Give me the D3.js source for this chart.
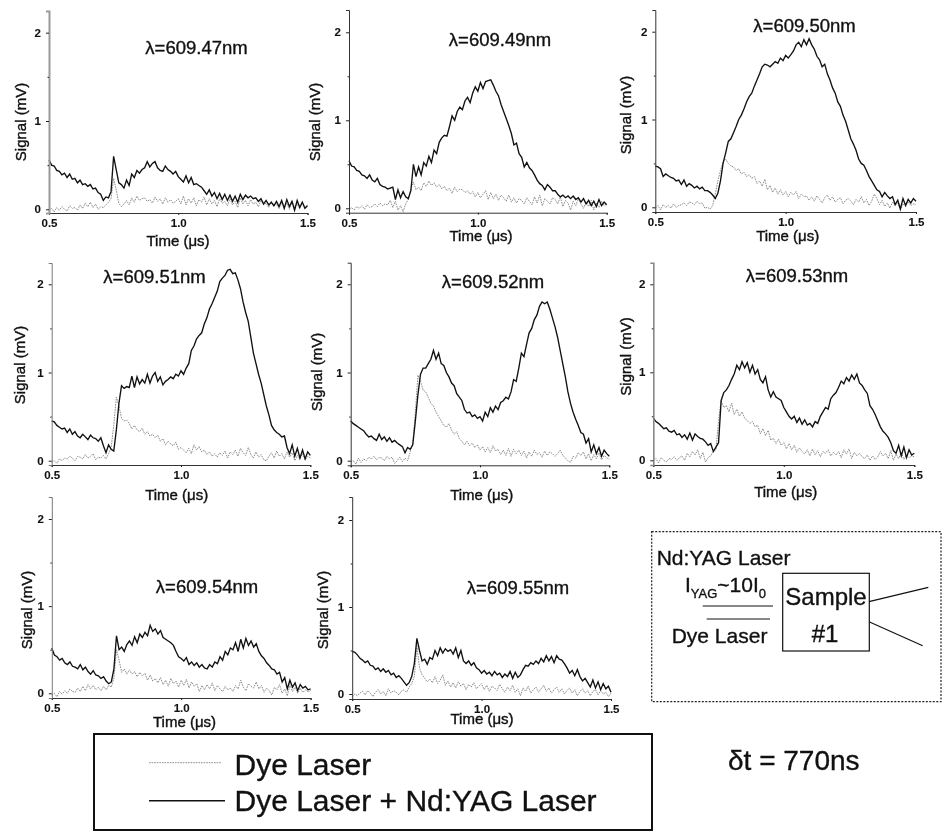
<!DOCTYPE html>
<html>
<head>
<meta charset="utf-8">
<script src="https://d3js.org/d3.v7.min.js"></script>
<style>
  html, body {margin: 0; padding: 0; background: #fff;}
  svg {display: block; filter: blur(0.45px);}
  text {font-family: "Liberation Sans", Arial, sans-serif; fill: #111; stroke: #111; stroke-width: 0.35px;}
  .tick-label text {font-size: 11.5px; font-weight: bold; stroke-width: 0.1px;}
  .axis-title {font-size: 15px; stroke-width: 0.4px;}
  .panel-title {font-size: 18.5px;}
  .axis .domain {stroke: #333;}
  .axis line {stroke: #222;}
  .both {fill: none; stroke: #111; stroke-width: 1.35;}
  .dye {fill: none; stroke: #808080; stroke-width: 0.9; stroke-dasharray: 1.6 1;}
</style>
</head>
<body>
<svg id="chart" width="942" height="832"></svg>

<script>
// values, one reading per 0.01 us from 0.5 to 1.5
var wavelengths = ["609.47", "609.49", "609.50", "609.51", "609.52", "609.53", "609.54", "609.55"];
var xTicks = [0.5, 1.0, 1.5];
var yTicks = [0, 1, 2];
var yMinorTicks = [0.5, 1.5];

var both47 = [.56,.50,.49,.44,.43,.39,.41,.36,.40,.34,
  .35,.30,.33,.28,.29,.26,.28,.23,.24,.19,
  .17,.10,.14,.13,.20,.60,.45,.30,.28,.24,
  .33,.27,.40,.36,.44,.41,.45,.47,.54,.48,
  .52,.54,.47,.44,.43,.49,.45,.43,.40,.43,
  .37,.34,.31,.38,.30,.36,.28,.29,.27,.25,
  .21,.17,.22,.15,.19,.12,.18,.11,.17,.10,
  .16,.09,.15,.08,.17,.11,.16,.13,.15,.12,
  .13,.09,.12,.06,.10,.05,.08,.04,.09,.03,
  .10,.01,.11,.03,.09,-.01,.10,.02,.08,.01,.04];
var dye47 = [-.02,.01,-.03,.02,-.01,.03,0,-.02,.04,.01,
  .02,-.01,.05,.01,.07,.03,.08,.02,.06,0,
  .03,.02,.05,.08,.12,.35,.22,.07,.03,.06,
  .10,.05,.13,.08,.15,.10,.12,.13,.09,.11,
  .07,.14,.09,.12,.06,.13,.08,.11,.07,.09,
  .12,.06,.15,.05,.12,.07,.13,.04,.11,.08,
  .14,.05,.12,.06,.10,.03,.12,.07,.09,.04,
  .12,.05,.09,.02,.13,.06,.10,.04,.11,.06,
  .08,.03,.10,.05,.07,.02,.09,.04,.06,.01,
  .08,.03,.07,0,.09,.02,.06,.01,.08,.03,.05];

var both49 = [.54,.48,.47,.43,.42,.38,.37,.34,.38,.32,
  .30,.34,.27,.25,.24,.22,.23,.24,.10,.21,
  .12,.19,.13,.11,.20,.50,.36,.47,.38,.52,
  .48,.59,.52,.66,.62,.75,.80,.83,.82,.93,
  1.05,1.00,1.10,1.15,1.12,1.22,1.26,1.20,1.31,1.38,
  1.33,1.43,1.36,1.44,1.45,1.46,1.40,1.33,1.28,1.18,
  1.10,1.02,.94,.85,.72,.74,.62,.58,.47,.52,
  .46,.43,.38,.32,.28,.26,.21,.27,.24,.20,
  .20,.16,.13,.15,.12,.14,.11,.14,.10,.12,
  .07,.11,.05,.09,.03,.08,.02,.10,.03,.07,.04];
var dye49 = [-.03,.01,-.02,.02,0,.03,-.01,.04,.01,.02,
  .05,.02,.06,.03,.05,.04,.09,.01,.08,-.02,
  .03,-.04,.05,.10,.22,.30,.21,.24,.20,.29,
  .25,.31,.26,.29,.24,.27,.22,.25,.20,.23,
  .17,.24,.19,.22,.21,.18,.20,.16,.19,.13,
  .18,.12,.16,.20,.10,.18,.11,.16,.09,.15,
  .12,.08,.15,.07,.12,.06,.11,.09,.05,.12,
  .08,.04,.13,.06,.15,.03,.11,.08,.05,.12,
  .10,.05,.13,.02,.09,.06,-.02,.08,.03,.11,
  .05,0,.07,.02,.09,-.02,.06,.01,.08,.03,.05];

var both50 = [.47,.46,.44,.35,.38,.36,.34,.33,.30,.31,
  .26,.31,.24,.27,.25,.22,.24,.21,.23,.19,
  .19,.17,.14,.10,.16,.30,.50,.62,.75,.78,
  .85,.92,1.00,1.05,1.12,1.20,1.26,1.30,1.38,1.45,
  1.52,1.60,1.63,1.62,1.60,1.63,1.66,1.64,1.70,1.67,
  1.73,1.70,1.74,1.78,1.85,1.88,1.83,1.91,1.85,1.92,
  1.85,1.80,1.72,1.68,1.60,1.63,1.52,1.45,1.36,1.30,
  1.20,1.15,1.05,.98,.88,.78,.72,.65,.55,.50,
  .48,.42,.35,.30,.25,.20,.18,.12,.17,.13,
  .10,.12,.03,.08,-.02,.10,.02,.09,.05,.10,.07];
var dye50 = [-.01,.02,-.03,.03,0,.02,-.01,.04,0,.02,
  .03,.05,.02,.06,.05,.03,.07,.04,.05,-.01,
  0,-.02,.02,.15,.30,.42,.52,.55,.50,.47,
  .46,.42,.44,.38,.40,.35,.37,.33,.35,.27,
  .30,.24,.32,.20,.25,.17,.22,.15,.20,.14,
  .18,.12,.17,.14,.18,.10,.15,.12,.13,.08,
  .12,.07,.13,.09,.05,.11,.14,.08,.12,.06,
  .09,.11,.04,.08,.10,.07,.03,.09,.06,.12,
  .05,.09,.02,.07,.15,.10,.03,.08,.01,.05,
  -.01,.06,.02,.05,-.03,.04,.01,.06,.02,.04,.03];

var both51 = [.45,.44,.40,.38,.36,.37,.32,.36,.30,.33,
  .28,.26,.30,.27,.24,.29,.26,.25,.22,.26,
  .17,.09,.18,.13,.11,.35,.65,.85,.82,.84,
  .83,.96,.83,.95,.87,.92,.88,.98,.88,.96,
  1.00,.90,.95,.86,.90,.92,.95,.93,.98,.96,
  1.02,.98,1.05,1.10,1.25,1.30,1.38,1.42,1.45,1.55,
  1.62,1.72,1.78,1.85,1.92,2.03,2.07,2.10,2.16,2.17,
  2.12,2.13,2.05,1.95,1.80,1.68,1.58,1.40,1.22,1.10,
  .98,.88,.75,.62,.52,.40,.35,.32,.30,.27,
  .28,.15,.08,.18,.05,.14,.03,.12,.02,.10,.06];
var dye51 = [-.02,0,-.03,.02,0,.03,.02,.05,.03,0,
  .05,.04,.02,.07,.03,.05,.08,.01,.04,.03,
  .06,.02,.08,.15,.40,.72,.62,.48,.45,.46,
  .42,.36,.40,.35,.33,.37,.30,.33,.28,.30,
  .26,.29,.22,.25,.18,.22,.19,.17,.21,.13,
  .15,.12,.09,.14,.08,.18,.12,.16,.10,.12,
  .07,.10,.05,.08,.04,.09,.06,.11,.03,.10,
  .07,.12,.05,.14,.09,.06,.15,.07,.03,.10,
  .04,.07,.01,0,.05,.09,.03,.11,.05,.08,
  .02,.10,.04,.09,0,.06,.02,.08,.01,.05,.03];

var both52 = [.45,.42,.40,.38,.36,.34,.30,.27,.28,.25,
  .23,.30,.24,.27,.22,.26,.21,.23,.20,.18,
  .16,.09,.15,.13,.18,.45,.75,.98,1.05,1.05,
  1.10,1.15,1.25,1.15,1.22,1.10,1.08,1.00,.95,.88,
  .85,.76,.72,.68,.58,.54,.55,.50,.52,.48,
  .50,.45,.55,.50,.60,.55,.62,.58,.66,.68,
  .72,.70,.78,.92,.90,1.05,1.22,1.18,1.32,1.45,
  1.50,1.60,1.65,1.75,1.80,1.78,1.80,1.72,1.62,1.52,
  1.40,1.25,1.10,.95,.78,.65,.55,.47,.40,.32,
  .30,.20,.25,.10,.18,.08,.15,.05,.12,.08,.05];
var dye52 = [-.01,0,-.04,.03,-.02,.02,0,.04,.02,.05,
  .01,.04,.03,0,.05,.02,.04,-.03,0,.04,
  -.01,.03,0,.10,.20,.55,.97,.90,.80,.78,
  .72,.65,.62,.55,.50,.45,.40,.38,.42,.35,
  .30,.33,.25,.22,.18,.22,.17,.20,.15,.18,
  .12,.16,.10,.15,.09,.17,.11,.13,.07,.12,
  .06,.14,.05,.13,.08,.12,.06,.11,.03,.10,
  .05,.12,.07,.09,.04,.11,.06,.10,.08,.05,
  .08,.12,.06,.03,0,-.02,.05,.03,.09,.06,
  .10,.02,.08,0,.07,.02,.09,.01,.06,.03,.02];

var both53 = [.48,.44,.42,.39,.36,.37,.33,.32,.34,.29,
  .30,.26,.29,.24,.31,.23,.30,.27,.25,.24,
  .21,.17,.19,.10,.15,.20,.68,.77,.80,.85,
  .92,.98,1.08,1.03,1.12,1.05,1.11,1.00,1.08,.98,
  1.03,.92,.88,.95,.80,.72,.78,.72,.70,.68,
  .60,.55,.50,.47,.50,.43,.48,.41,.46,.40,
  .42,.38,.44,.42,.50,.55,.60,.58,.70,.74,
  .77,.83,.90,.87,.94,.90,.97,.92,.98,.88,
  .85,.80,.76,.62,.58,.52,.45,.38,.33,.30,
  .26,.20,.11,.08,.17,.05,.15,.03,.12,.06,.08];
var dye53 = [-.01,.02,-.03,.03,0,-.02,.02,.01,.04,0,
  .03,.05,0,.08,.04,.10,.06,.12,.02,.09,
  -.02,.03,.05,.10,.12,.45,.68,.60,.62,.55,
  .65,.52,.58,.50,.55,.48,.45,.42,.44,.38,
  .40,.30,.36,.28,.34,.23,.25,.19,.24,.17,
  .20,.13,.19,.12,.17,.09,.14,.10,.07,.12,
  .05,.13,.06,.11,.04,.10,.08,.12,.05,.09,
  .06,.10,.03,.12,.07,.13,.02,.09,.05,.08,
  .04,.02,.06,0,.05,.01,.04,.10,.05,.08,
  .02,.11,0,.07,.02,.09,.01,.06,.03,.05,.04];

var both54 = [.52,.44,.42,.38,.40,.35,.33,.36,.31,.30,
  .28,.33,.27,.30,.25,.22,.26,.21,.20,.17,
  .19,.14,.11,.13,.28,.66,.50,.53,.48,.56,
  .60,.55,.65,.58,.68,.64,.70,.66,.78,.71,
  .74,.68,.72,.64,.62,.60,.58,.55,.48,.42,
  .40,.37,.41,.33,.36,.32,.35,.30,.33,.29,
  .28,.33,.30,.36,.34,.42,.38,.48,.44,.52,
  .50,.58,.48,.62,.52,.63,.55,.60,.53,.57,
  .48,.43,.40,.35,.32,.28,.27,.22,.24,.13,
  .18,.05,.15,.07,.12,.03,.10,.06,.08,.04,.05];
var dye54 = [-.02,0,-.04,.02,-.01,.03,0,.05,.02,.01,
  .06,.02,.08,.03,.10,.05,.09,.04,.07,.03,
  .08,.04,.09,.07,.18,.50,.38,.24,.28,.22,
  .27,.22,.25,.19,.24,.20,.23,.15,.21,.14,
  .17,.12,.18,.10,.15,.08,.17,.11,.14,.07,
  .15,.09,.16,.06,.13,.08,.11,.02,.09,.04,
  .10,.05,.12,.03,.09,.05,.02,.08,.04,.06,
  .02,.09,.05,.15,.07,.03,.11,.08,.06,.13,
  .05,.09,.01,.06,.03,-.02,.07,.04,.10,0,
  .05,-.03,.10,.02,.07,0,.06,.01,.04,.02,.03];

var both55 = [.49,.48,.45,.41,.39,.36,.38,.33,.32,.28,
  .30,.26,.29,.25,.27,.22,.24,.19,.21,.18,
  .14,.10,.13,.20,.35,.64,.50,.38,.40,.34,
  .42,.40,.50,.44,.53,.47,.52,.49,.51,.46,
  .53,.42,.50,.38,.35,.38,.33,.36,.30,.28,
  .24,.27,.23,.25,.21,.26,.22,.24,.19,.23,
  .20,.26,.18,.25,.19,.22,.28,.33,.32,.36,
  .34,.38,.35,.41,.37,.44,.38,.43,.36,.44,
  .40,.39,.35,.30,.24,.27,.21,.28,.20,.15,
  .18,.13,.08,.16,.07,.14,.05,.12,.06,.09,.02];
var dye55 = [-.03,0,-.02,.01,.03,-.01,.04,.01,-.03,.02,
  .05,0,.03,-.02,.06,.01,.04,.02,-.01,.03,
  .05,.02,.08,.12,.20,.55,.30,.22,.18,.14,
  .17,.13,.20,.12,.16,.22,.10,.15,.08,.13,
  .07,.14,.09,.12,.05,.11,.08,.13,.06,.09,
  .12,.05,.10,.03,.09,.07,.04,.11,.06,.02,
  .08,.04,.10,.02,.06,-.02,.07,.03,.09,.01,
  .05,.08,.02,.06,.10,.03,.07,.01,.05,.08,
  .02,.06,0,.04,.07,.01,.05,-.02,.03,.06,
  .01,.04,-.02,.03,.05,-.01,.04,0,.02,-.03,.01];

var bothSeries = [both47, both49, both50, both51, both52, both53, both54, both55];
var dyeSeries = [dye47, dye49, dye50, dye51, dye52, dye53, dye54, dye55];

// where each little plot sits on the page (the scan is not quite regular)
var frames = [
  {left: 49,  right: 307.5, y0: 209.3, y2: 32.7,  top: 11,  bottom: 213, titleX: 196.5, titleY: 54,  sigX: 21,  sigY: 122, timeX: 178, timeY: 241, spine: "#999", spineW: 2},
  {left: 349, right: 606.7, y0: 208.3, y2: 32.3,  top: 10,  bottom: 212.7, titleX: 500, titleY: 46,  sigX: 315, sigY: 122, timeX: 481, timeY: 236, spine: "#333", spineW: 1},
  {left: 655.3, right: 916, y0: 207.3, y2: 31.7,  top: 10,  bottom: 212, titleX: 804.5, titleY: 32,  sigX: 626, sigY: 115, timeX: 787.7, timeY: 236, spine: "#333", spineW: 1},
  {left: 51.7, right: 310.3, y0: 460.7, y2: 284.3, top: 263, bottom: 465, titleX: 154.5, titleY: 283, sigX: 20,  sigY: 365, timeX: 176.7, timeY: 495, spine: "#777", spineW: 1},
  {left: 350.7, right: 609.3, y0: 460.7, y2: 284.3, top: 262.7, bottom: 465.3, titleX: 493, titleY: 287.7, sigX: 317, sigY: 372, timeX: 481.7, timeY: 495, spine: "#333", spineW: 1},
  {left: 653.3, right: 914.3, y0: 460.3, y2: 284.3, top: 262.7, bottom: 465, titleX: 797, titleY: 281.7, sigX: 626, sigY: 356.5, timeX: 785.7, timeY: 491.7, spine: "#888", spineW: 1.6},
  {left: 51.8, right: 310.6, y0: 693.3, y2: 519,   top: 497, bottom: 698, titleX: 207, titleY: 593, sigX: 26.5, sigY: 610, timeX: 184.5, timeY: 721.7, spine: "#777", spineW: 1},
  {left: 352.2, right: 611, y0: 694,   y2: 520,   top: 497, bottom: 699, titleX: 518, titleY: 594, sigX: 322.4, sigY: 610, timeX: 482, timeY: 719, spine: "#333", spineW: 1}
];

var svg = d3.select("#chart");

wavelengths.forEach(function(wl, p) {
  var f = frames[p];
  var g = svg.append("g").attr("class", "panel");

  var x = d3.scaleLinear().domain([0.5, 1.5]).range([f.left, f.right]);
  var yBase = d3.scaleLinear().domain([0, 2]).range([f.y0, f.y2]);
  // axis runs a bit past 0 and 2
  var y = d3.scaleLinear()
    .domain([yBase.invert(f.bottom), yBase.invert(f.top)])
    .range([f.bottom, f.top]);

  var line = d3.line()
    .x(function(d, i, arr) { return x(0.5 + i / (arr.length - 1)); })
    .y(function(d) { return y(d); });

  g.append("path").datum(dyeSeries[p]).attr("class", "dye").attr("d", line);
  g.append("path").datum(bothSeries[p]).attr("class", "both").attr("d", line);

  g.append("g")
    .attr("class", "axis tick-label")
    .attr("transform", "translate(0," + f.bottom + ")")
    .call(d3.axisBottom(x).tickValues(xTicks).tickFormat(d3.format(".1f")).tickSizeOuter(0).tickSize(2).tickPadding(4));

  var yAxis = g.append("g")
    .attr("class", "axis tick-label")
    .attr("transform", "translate(" + f.left + ",0)")
    .call(d3.axisLeft(y).tickValues(yTicks).tickFormat(d3.format("d")).tickSizeOuter(0).tickSize(3).tickPadding(5));
  yAxis.select(".domain")
    .style("stroke", f.spine)
    .style("stroke-width", f.spineW);

  g.append("g")
    .attr("class", "axis")
    .attr("transform", "translate(" + f.left + ",0)")
    .call(d3.axisLeft(y).tickValues(yMinorTicks).tickFormat("").tickSizeOuter(0).tickSize(1.5))
    .select(".domain").remove();

  g.append("text")
    .attr("class", "panel-title")
    .attr("x", f.titleX)
    .attr("y", f.titleY)
    .attr("text-anchor", "middle")
    .text("λ=" + wl + "nm");

  g.append("text")
    .attr("class", "axis-title")
    .attr("text-anchor", "middle")
    .attr("transform", "translate(" + f.sigX + "," + f.sigY + ") rotate(-90)")
    .attr("dy", "0.35em")
    .text("Signal (mV)");

  g.append("text")
    .attr("class", "axis-title")
    .attr("text-anchor", "middle")
    .attr("x", f.timeX)
    .attr("y", f.timeY)
    .attr("dy", "0.35em")
    .text("Time (μs)");
});

// legend box at the bottom
var legend = svg.append("g");
legend.append("rect")
  .attr("x", 94).attr("y", 734)
  .attr("width", 558).attr("height", 96)
  .attr("fill", "none").attr("stroke", "#111").attr("stroke-width", 2);
legend.append("line")
  .attr("class", "dye")
  .attr("x1", 149).attr("x2", 221).attr("y1", 762.7).attr("y2", 762.7);
legend.append("line")
  .attr("class", "both")
  .attr("x1", 149).attr("x2", 225).attr("y1", 800.7).attr("y2", 800.7);
legend.append("text")
  .attr("x", 234.5).attr("y", 775)
  .style("font-size", "30px")
  .text("Dye Laser");
legend.append("text")
  .attr("x", 234.5).attr("y", 811)
  .style("font-size", "30px")
  .text("Dye Laser + Nd:YAG Laser");

// experiment sketch, lower right
var sketch = svg.append("g");
sketch.append("rect")
  .attr("x", 651.7).attr("y", 531.7)
  .attr("width", 289.3).attr("height", 170)
  .attr("fill", "none").attr("stroke", "#222").attr("stroke-width", 1.2)
  .attr("stroke-dasharray", "2 1.5");
sketch.append("rect")
  .attr("x", 782.7).attr("y", 573.3)
  .attr("width", 86.6).attr("height", 77.7)
  .attr("fill", "none").attr("stroke", "#111").attr("stroke-width", 1.2);
sketch.append("text").attr("x", 656.7).attr("y", 565).style("font-size", "21px").text("Nd:YAG Laser");

var iText = sketch.append("text").attr("x", 685).attr("y", 591.7).style("font-size", "21px");
iText.append("tspan").text("I");
iText.append("tspan").attr("dy", 6).style("font-size", "13px").text("YAG");
iText.append("tspan").attr("dy", -6).text("~10I");
iText.append("tspan").attr("dy", 6).style("font-size", "13px").text("0");

sketch.append("text").attr("x", 671.7).attr("y", 643).style("font-size", "21px").text("Dye Laser");
sketch.append("text").attr("x", 826).attr("y", 605).attr("text-anchor", "middle").style("font-size", "24px").text("Sample");
sketch.append("text").attr("x", 825).attr("y", 641.7).attr("text-anchor", "middle").style("font-size", "24px").text("#1");

var sketchLines = [
  [702.7, 606, 773, 606],
  [706.7, 619, 770, 619],
  [869, 601.7, 928.3, 587.3],
  [869, 621.7, 922.7, 645.7]
];
sketch.selectAll("line.beam")
  .data(sketchLines)
  .enter().append("line")
  .attr("class", "beam")
  .attr("x1", function(d) { return d[0]; })
  .attr("y1", function(d) { return d[1]; })
  .attr("x2", function(d) { return d[2]; })
  .attr("y2", function(d) { return d[3]; })
  .attr("stroke", "#111")
  .attr("stroke-width", 1.2);

svg.append("text")
  .attr("x", 728).attr("y", 770)
  .style("font-size", "28px")
  .text("δt = 770ns");
</script>
</body>
</html>
